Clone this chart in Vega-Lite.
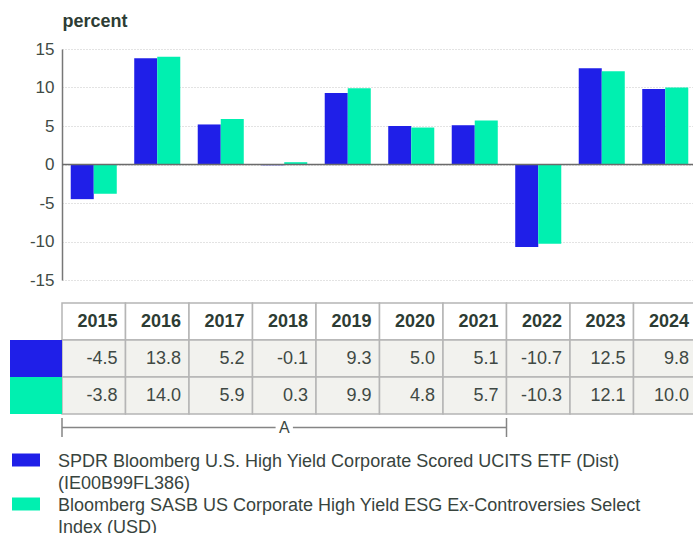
{
  "$schema": "https://vega.github.io/schema/vega-lite/v6.json",
  "padding": {"left": 10, "right": -4, "top": 12, "bottom": -4},
  "spacing": 4,
  "bounds": "flush",
  "datasets": {
    "returns": [
      {"year": "2015", "series": "SPDR Bloomberg U.S. High Yield Corporate Scored UCITS ETF (Dist) (IE00B99FL386)", "value": -4.5},
      {"year": "2015", "series": "Bloomberg SASB US Corporate High Yield ESG Ex-Controversies Select Index (USD)", "value": -3.8},
      {"year": "2016", "series": "SPDR Bloomberg U.S. High Yield Corporate Scored UCITS ETF (Dist) (IE00B99FL386)", "value": 13.8},
      {"year": "2016", "series": "Bloomberg SASB US Corporate High Yield ESG Ex-Controversies Select Index (USD)", "value": 14.0},
      {"year": "2017", "series": "SPDR Bloomberg U.S. High Yield Corporate Scored UCITS ETF (Dist) (IE00B99FL386)", "value": 5.2},
      {"year": "2017", "series": "Bloomberg SASB US Corporate High Yield ESG Ex-Controversies Select Index (USD)", "value": 5.9},
      {"year": "2018", "series": "SPDR Bloomberg U.S. High Yield Corporate Scored UCITS ETF (Dist) (IE00B99FL386)", "value": -0.1},
      {"year": "2018", "series": "Bloomberg SASB US Corporate High Yield ESG Ex-Controversies Select Index (USD)", "value": 0.3},
      {"year": "2019", "series": "SPDR Bloomberg U.S. High Yield Corporate Scored UCITS ETF (Dist) (IE00B99FL386)", "value": 9.3},
      {"year": "2019", "series": "Bloomberg SASB US Corporate High Yield ESG Ex-Controversies Select Index (USD)", "value": 9.9},
      {"year": "2020", "series": "SPDR Bloomberg U.S. High Yield Corporate Scored UCITS ETF (Dist) (IE00B99FL386)", "value": 5.0},
      {"year": "2020", "series": "Bloomberg SASB US Corporate High Yield ESG Ex-Controversies Select Index (USD)", "value": 4.8},
      {"year": "2021", "series": "SPDR Bloomberg U.S. High Yield Corporate Scored UCITS ETF (Dist) (IE00B99FL386)", "value": 5.1},
      {"year": "2021", "series": "Bloomberg SASB US Corporate High Yield ESG Ex-Controversies Select Index (USD)", "value": 5.7},
      {"year": "2022", "series": "SPDR Bloomberg U.S. High Yield Corporate Scored UCITS ETF (Dist) (IE00B99FL386)", "value": -10.7},
      {"year": "2022", "series": "Bloomberg SASB US Corporate High Yield ESG Ex-Controversies Select Index (USD)", "value": -10.3},
      {"year": "2023", "series": "SPDR Bloomberg U.S. High Yield Corporate Scored UCITS ETF (Dist) (IE00B99FL386)", "value": 12.5},
      {"year": "2023", "series": "Bloomberg SASB US Corporate High Yield ESG Ex-Controversies Select Index (USD)", "value": 12.1},
      {"year": "2024", "series": "SPDR Bloomberg U.S. High Yield Corporate Scored UCITS ETF (Dist) (IE00B99FL386)", "value": 9.8},
      {"year": "2024", "series": "Bloomberg SASB US Corporate High Yield ESG Ex-Controversies Select Index (USD)", "value": 10.0}
    ],
    "years": [
      {"year": "2015"}, {"year": "2016"}, {"year": "2017"}, {"year": "2018"}, {"year": "2019"},
      {"year": "2020"}, {"year": "2021"}, {"year": "2022"}, {"year": "2023"}, {"year": "2024"}
    ],
    "notes": [{"label": "A", "from": "2015", "to": "2021", "middle": "2018"}]
  },
  "vconcat": [
    {
      "width": 635,
      "height": 250,
      "layer": [
        {
          "data": {"name": "returns"},
          "mark": {"type": "bar"},
          "encoding": {
            "x": {"field": "year", "type": "nominal", "scale": {"type": "band", "paddingInner": 0.275, "paddingOuter": 0.1375}, "axis": null},
            "xOffset": {"field": "series", "type": "nominal", "scale": {"domain": ["SPDR Bloomberg U.S. High Yield Corporate Scored UCITS ETF (Dist) (IE00B99FL386)", "Bloomberg SASB US Corporate High Yield ESG Ex-Controversies Select Index (USD)"]}},
            "y": {
              "field": "value", "type": "quantitative",
              "scale": {"domain": [-15, 15], "range": [231, 0], "nice": false, "zero": false},
              "axis": {
                "values": [-15, -10, -5, 0, 5, 10, 15],
                "labelExpr": "'' + datum.value",
                "ticks": false, "domain": true, "domainColor": "#777777", "domainWidth": 1.5,
                "grid": true, "gridColor": "#c6c6c6", "gridDash": [1, 2], "gridWidth": 1,
                "labelFont": "Liberation Sans", "labelFontSize": 17, "labelColor": "#3f4b45", "labelPadding": 8,
                "title": "percent", "titleAngle": 0, "titleAlign": "left", "titleBaseline": "alphabetic",
                "titleX": 0, "titleY": -23, "titleFont": "Liberation Sans", "titleFontSize": 18,
                "titleFontWeight": "bold", "titleColor": "#2d3c34"
              }
            },
            "color": {
              "field": "series", "type": "nominal",
              "scale": {"domain": ["SPDR Bloomberg U.S. High Yield Corporate Scored UCITS ETF (Dist) (IE00B99FL386)", "Bloomberg SASB US Corporate High Yield ESG Ex-Controversies Select Index (USD)"], "range": ["#1f1fe8", "#00f0b0"]},
              "legend": {
                "orient": "none", "legendX": -50, "legendY": 400, "title": null, "direction": "vertical",
                "symbolType": "M-1,-0.464H1V0.464H-1Z", "symbolSize": 784, "symbolStrokeWidth": 0, "symbolOpacity": 1,
                "labelFont": "Liberation Sans", "labelFontSize": 18, "labelColor": "#38443e", "labelOffset": 18,
                "labelLimit": 900, "labelBaseline": "top", "rowPadding": 0, "padding": 0,
                "labelExpr": "indexof(datum.value, 'SPDR') == 0 ? ['SPDR Bloomberg U.S. High Yield Corporate Scored UCITS ETF (Dist)', '(IE00B99FL386)'] : ['Bloomberg SASB US Corporate High Yield ESG Ex-Controversies Select', 'Index (USD)']",
                "encode": {
                  "symbols": {"update": {"y": {"value": 11}}},
                  "labels": {"update": {"lineHeight": {"value": 22}, "y": {"value": 4}}}
                }
              }
            }
          }
        },
        {
          "data": {"values": [{}]},
          "mark": {"type": "rule", "color": "#6b6b6b", "strokeWidth": 1.5},
          "encoding": {"y": {"datum": 0, "type": "quantitative"}}
        }
      ]
    },
    {
      "width": 635,
      "height": 111,
      "resolve": {"scale": {"x": "independent"}},
      "layer": [
        {
          "data": {"name": "years"},
          "mark": {"type": "rect", "fill": "#ffffff", "stroke": "#b5b5b5", "strokeWidth": 1.5},
          "encoding": {
            "x": {"field": "year", "type": "nominal", "axis": null, "scale": {"type": "band", "paddingInner": 0, "paddingOuter": 0}},
            "y": {"datum": "Year", "type": "nominal", "axis": null, "scale": {"type": "band", "domain": ["Year", "SPDR Bloomberg U.S. High Yield Corporate Scored UCITS ETF (Dist) (IE00B99FL386)", "Bloomberg SASB US Corporate High Yield ESG Ex-Controversies Select Index (USD)"], "paddingInner": 0, "paddingOuter": 0}}
          }
        },
        {
          "data": {"name": "years"},
          "mark": {"type": "text", "align": "right", "dx": -8, "baseline": "middle", "font": "Liberation Sans", "fontSize": 18, "fontWeight": "bold", "color": "#2d3c34"},
          "encoding": {
            "x": {"field": "year", "type": "nominal", "bandPosition": 1, "axis": null, "scale": {"type": "band", "paddingInner": 0, "paddingOuter": 0}},
            "y": {"datum": "Year", "type": "nominal"},
            "text": {"field": "year"}
          }
        },
        {
          "data": {"name": "returns"},
          "mark": {"type": "rect", "fill": "#f2f2ee", "stroke": "#b5b5b5", "strokeWidth": 1.5},
          "encoding": {
            "x": {"field": "year", "type": "nominal", "axis": null, "scale": {"type": "band", "paddingInner": 0, "paddingOuter": 0}},
            "y": {"field": "series", "type": "nominal"}
          }
        },
        {
          "data": {"name": "returns"},
          "mark": {"type": "text", "align": "right", "dx": -8, "baseline": "middle", "font": "Liberation Sans", "fontSize": 18, "color": "#3f4944",
                   "text": {"expr": "replace(format(datum.value, '.1f'), '\u2212', '-')"}},
          "encoding": {
            "x": {"field": "year", "type": "nominal", "bandPosition": 1, "axis": null, "scale": {"type": "band", "paddingInner": 0, "paddingOuter": 0}},
            "y": {"field": "series", "type": "nominal"}
          }
        },
        {
          "data": {"name": "returns"},
          "transform": [{"filter": "datum.year == '2015'"}],
          "mark": {"type": "rect"},
          "encoding": {
            "x": {"datum": 0, "type": "quantitative", "scale": {"domain": [0, 1], "range": [-52, 0]}, "axis": null},
            "x2": {"datum": 1},
            "y": {"field": "series", "type": "nominal"},
            "color": {"field": "series", "type": "nominal"}
          }
        }
      ]
    },
    {
      "width": 635,
      "height": 19,
      "data": {"name": "notes"},
      "layer": [
        {
          "mark": {"type": "rule", "color": "#858585", "strokeWidth": 1.5},
          "encoding": {
            "x": {"field": "from", "type": "nominal", "bandPosition": 0, "axis": null, "scale": {"type": "band", "domain": ["2015", "2016", "2017", "2018", "2019", "2020", "2021", "2022", "2023", "2024"], "paddingInner": 0, "paddingOuter": 0}},
            "x2": {"field": "to", "bandPosition": 1},
            "y": {"datum": 0.5, "type": "quantitative", "scale": {"domain": [0, 1]}, "axis": null}
          }
        },
        {
          "mark": {"type": "rule", "color": "#858585", "strokeWidth": 1.5},
          "encoding": {
            "x": {"field": "from", "type": "nominal", "bandPosition": 0},
            "y": {"datum": 0, "type": "quantitative"},
            "y2": {"datum": 1}
          }
        },
        {
          "mark": {"type": "rule", "color": "#858585", "strokeWidth": 1.5},
          "encoding": {
            "x": {"field": "to", "type": "nominal", "bandPosition": 1},
            "y": {"datum": 0, "type": "quantitative"},
            "y2": {"datum": 1}
          }
        },
        {
          "mark": {"type": "point", "shape": "square", "filled": true, "color": "#ffffff", "opacity": 1, "size": 300, "strokeWidth": 0},
          "encoding": {
            "x": {"field": "middle", "type": "nominal"},
            "y": {"datum": 0.5, "type": "quantitative"}
          }
        },
        {
          "mark": {"type": "text", "font": "Liberation Sans", "fontSize": 16, "color": "#3b4842", "baseline": "middle", "align": "center"},
          "encoding": {
            "x": {"field": "middle", "type": "nominal"},
            "y": {"datum": 0.5, "type": "quantitative"},
            "text": {"field": "label"}
          }
        }
      ]
    }
  ],
  "config": {
    "view": {"stroke": null},
    "font": "Liberation Sans"
  }
}
